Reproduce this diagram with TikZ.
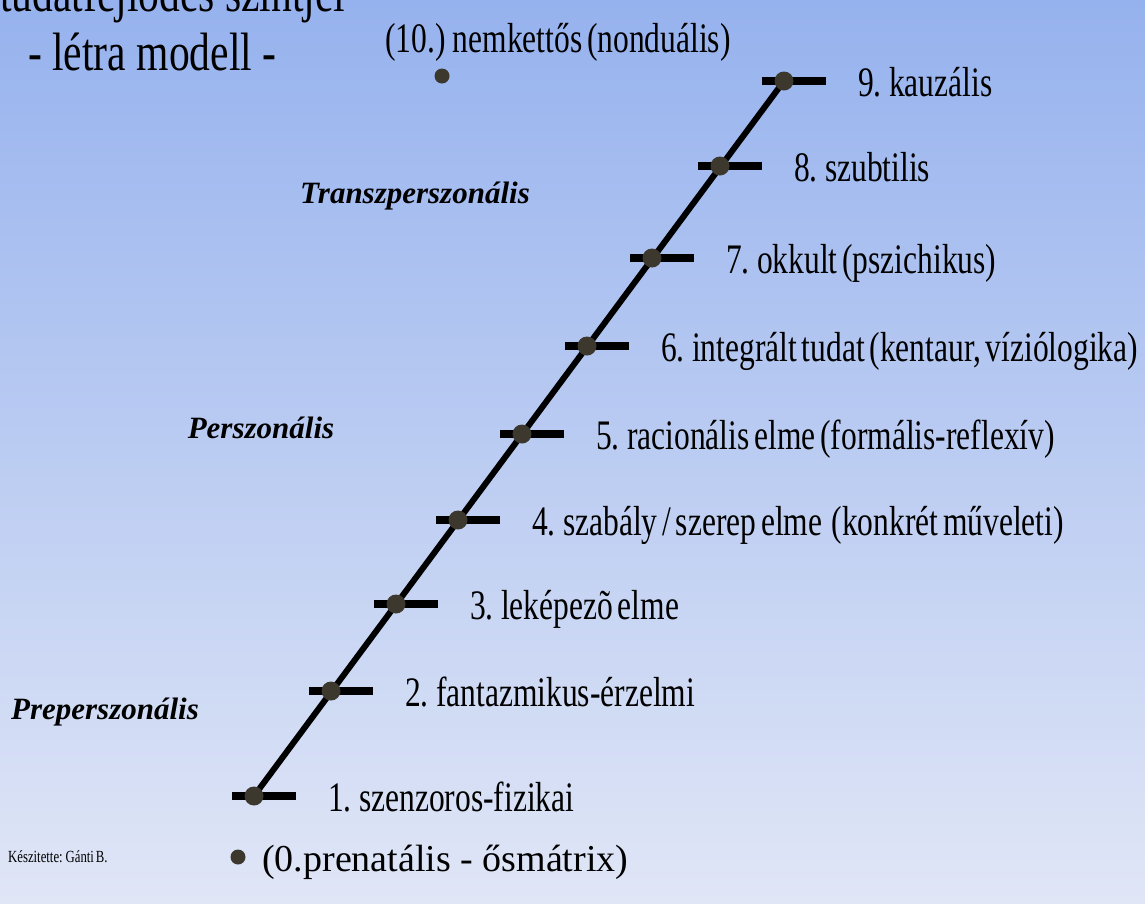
\documentclass[tikz,border=0pt]{standalone}
\usepackage{fontspec}
\setmainfont{Liberation Serif}
\newfontfamily\condfont[FakeStretch=0.75,WordSpace=0.6]{Liberation Serif}
\newfontfamily\titlefont[FakeStretch=0.77]{Liberation Serif}
\usepackage{tikz}
\definecolor{skytop}{RGB}{150,178,238}
\definecolor{skybottom}{RGB}{224,230,246}
\definecolor{dotgray}{RGB}{60,56,46}

\begin{document}
\begin{tikzpicture}[x=1pt,y=-1pt,
		ladder/.style={line width=6pt},
		rung/.style={line width=8pt},
		stage/.style={circle,fill=dotgray,inner sep=0pt,minimum size=19pt},
		lonedot/.style={circle,fill=dotgray,inner sep=0pt,minimum size=15pt},
		levellabel/.style={anchor=base west,inner sep=0pt,font=\condfont\fontsize{42}{46}\selectfont},
		realm/.style={inner sep=0pt,font=\bfseries\itshape\fontsize{31}{34}\selectfont}]
		%----------------------------------------------------
		% Background
		%----------------------------------------------------
		\shade[top color=skytop,bottom color=skybottom] (0,0) rectangle (1145,903);
		\useasboundingbox (0,0) rectangle (1145,903);

		\node[anchor=base west,inner sep=0pt,font=\titlefont\fontsize{54}{58}\selectfont] (title) at (0,11) {tudatfejlődés szintjei};
		\node[anchor=base west,inner sep=0pt,font=\titlefont\fontsize{54}{58}\selectfont] (subtitle) at (28,70) {- létra modell -};

		%----------------------------------------------------
		% The ladder: rungs 1 to 9
		%----------------------------------------------------
		\foreach \n/\px/\py in {1/254/796,2/331/691,3/396/604,4/458/520,5/522/434,
				6/587/346,7/652/258,8/720/166,9/784/81}
			\coordinate (p\n) at (\px,\py);
		\draw[ladder] (p1) -- (p9);
		\foreach \n in {1,...,9}
			\draw[rung] ([xshift=-22pt]p\n) -- ([xshift=42pt]p\n);
		\foreach \n in {1,...,9}
			\node[stage] (l\n) at (p\n) {};

		\foreach \n/\txt in {1/{1. szenzoros-fizikai},
				2/{2. fantazmikus-érzelmi},
				3/{3. leképezõ elme},
				4/{4. szabály / szerep elme\ \ (konkrét műveleti)},
				5/{5. racionális elme (formális-reflexív)},
				6/{6. integrált tudat (kentaur, víziólogika)},
				7/{7. okkult (pszichikus)},
				8/{8. szubtilis},
				9/{9. kauzális}}
			\node[levellabel] (t\n) at ([xshift=74pt,yshift=-15pt]l\n.center) {\txt};

		%----------------------------------------------------
		% Levels 0 and 10, off the ladder
		%----------------------------------------------------
		\node[lonedot] (l10) at (442,76) {};
		\node[levellabel] (t10) at (385,52) {(10.) nemkettős (nonduális)};
		\node[lonedot] (l0) at (238,857) {};
		\node[anchor=base west,inner sep=0pt,font=\fontsize{38}{42}\selectfont] (t0) at (262,871) {(0.prenatális - ősmátrix)};

		%----------------------------------------------------
		% Realms
		%----------------------------------------------------
		\node[realm] (trans) at (415,196) {Transzperszonális};
		\node[realm] (pers) at (261,428) {Perszonális};
		\node[realm] (prepers) at (105,712) {Preperszonális};

		\node[anchor=base west,inner sep=0pt,font=\condfont\fontsize{17}{19}\selectfont] (author) at (8,862) {Készitette: Gánti B.};
	\end{tikzpicture}
\end{document}
